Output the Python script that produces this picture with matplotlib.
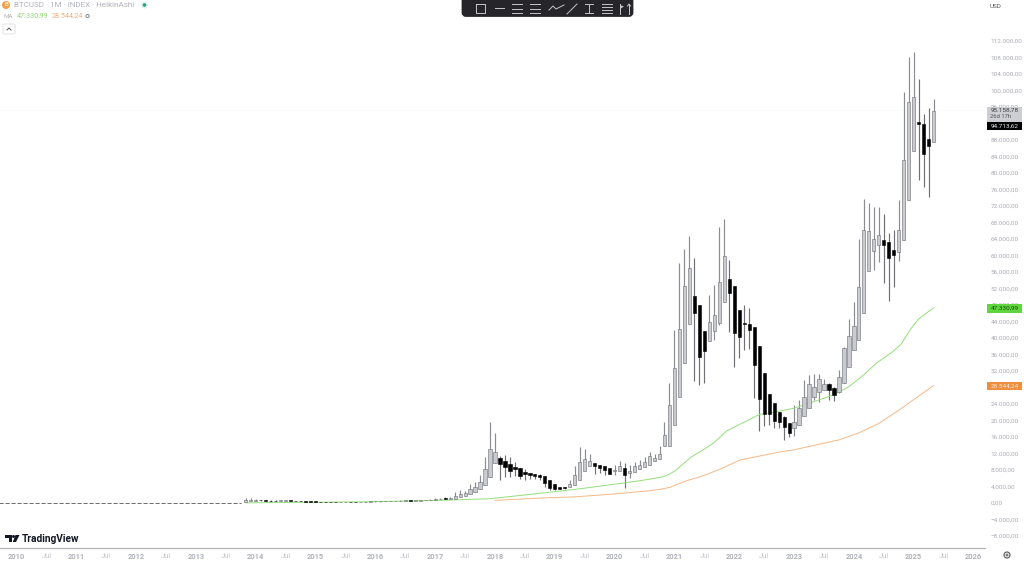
import matplotlib
matplotlib.use("Agg")
import matplotlib.pyplot as plt
from matplotlib.patches import Circle, FancyBboxPatch, Polygon, Rectangle

plt.rcParams['font.family'] = ['Roboto', 'DejaVu Sans']

# prices in thousands of USD, months counted from Jan 2010
flat_months = list(range(-4, 46))
flat_price = [0.01] * 50

first_month = 46
opens = [
    .2, .42, .6, .68, .65, .6, .55, .52, .53, .55, .54, .48, .42, .38,
    .36, .3, .27, .26, .25, .24, .25, .26, .25, .24, .25, .3, .38, .4,
    .41, .42, .43, .47, .55, .6, .58, .6, .65, .7, .8, .9, 1.05, .95,
    .9, 1.4, 1.7, 2.1, 2.7, 3.5, 4.3, 6.2,
    9.6, 11.0, 10.1, 9.4, 8.7, 8.4, 7.5, 7.3, 7.0, 6.8, 6.5, 5.6,
    4.5, 3.9, 3.8, 3.8, 4.3, 5.5, 7.7, 9.0, 9.6, 9.2, 9.0, 8.4,
    7.8, 7.8, 8.5, 7.3, 7.5, 8.2, 8.7, 9.3, 10.2, 10.6, 13.9, 13.9,
    18.8, 25.8, 34.0, 43.3, 50.1, 48.0, 41.8, 39.3, 41.6, 43.7, 48.7, 54.3,
    52.5, 46.9, 43.6, 43.4, 42.7, 38.1, 31.6, 26.4, 24.2, 22.1, 20.8, 19.5,
    18.3, 19.0, 21.1, 23.0, 25.8, 26.9, 27.5, 28.8, 28.0, 27.0, 29.0, 33.0,
    37.0, 39.5, 46.0, 56.2, 61.0, 62.6, 63.7, 63.2, 61.3, 60.8, 63.7, 73.4,
    85.3, 92.3, 91.9, 88.2, 87.4,
]
closes = [
    .65, .78, .75, .62, .55, .5, .5, .55, .55, .52, .45, .38, .35, .34,
    .28, .24, .25, .24, .24, .25, .27, .25, .24, .27, .36, .42, .41, .41,
    .42, .43, .47, .6, .62, .57, .6, .65, .72, .85, .92, 1.0, 1.0, 1.1,
    1.7, 2.3, 2.4, 3.5, 4.0, 5.1, 8.2, 13.0,
    12.4, 9.4, 8.7, 7.8, 8.3, 6.6, 7.0, 6.8, 6.5, 6.2, 4.9, 3.6,
    3.3, 3.4, 3.7, 4.5, 6.9, 9.9, 10.6, 10.2, 8.9, 8.5, 8.0, 7.0,
    8.1, 9.0, 6.7, 7.8, 9.0, 9.3, 10.0, 11.3, 10.8, 12.0, 16.4, 23.7,
    32.8, 42.1, 52.5, 56.9, 46.0, 35.5, 36.8, 44.0, 45.7, 53.7, 60.0, 50.8,
    41.3, 40.3, 43.4, 41.9, 33.5, 25.1, 21.6, 21.6, 20.0, 19.7, 18.5, 16.9,
    19.7, 23.0, 25.8, 28.8, 28.2, 30.0, 28.8, 27.4, 26.2, 30.6, 37.5, 40.5,
    42.9, 52.3, 66.2, 65.9, 63.9, 65.0, 62.6, 59.5, 60.2, 66.3, 83.2, 97.2,
    98.5, 92.0, 84.6, 86.6, 95.0,
]
highs = [
    1.1, 1.15, .95, .75, .7, .65, .62, .68, .66, .62, .55, .5, .42, .45,
    .38, .3, .3, .26, .25, .27, .32, .28, .25, .33, .5, .47, .46, .45,
    .44, .46, .55, .78, .7, .62, .62, .74, .76, .98, 1.15, 1.2, 1.35, 1.35,
    2.6, 3.1, 3.0, 4.6, 5.0, 6.8, 11.2, 19.6,
    17.0, 11.4, 11.6, 11.2, 9.9, 8.4, 8.2, 7.4, 7.1, 7.0, 6.6, 5.6,
    4.5, 3.9, 3.8, 5.6, 9.0, 13.6, 13.0, 12.0, 9.6, 9.2, 9.0, 8.4,
    9.2, 10.3, 9.8, 9.2, 10.0, 10.4, 11.1, 12.3, 12.0, 13.9, 19.6, 29.0,
    41.9, 58.1, 61.7, 64.7, 59.5, 48.0, 41.8, 50.4, 52.8, 66.8, 68.8, 58.9,
    52.5, 46.9, 48.0, 47.3, 42.7, 38.1, 31.6, 26.4, 24.2, 22.1, 21.0, 19.5,
    23.8, 25.0, 29.8, 31.0, 31.2, 31.4, 30.0, 29.0, 28.2, 32.2, 37.9, 44.5,
    48.8, 63.9, 73.6, 72.7, 71.7, 71.8, 70.0, 65.4, 66.3, 73.5, 99.6, 108.2,
    109.3, 102.7, 94.3, 95.7, 97.9,
]
lows = [
    .2, .42, .6, .45, .45, .36, .44, .5, .5, .48, .38, .28, .27, .3,
    .15, .17, .23, .21, .22, .22, .25, .2, .22, .24, .25, .3, .35, .37,
    .39, .4, .43, .47, .48, .5, .58, .6, .65, .7, .75, .9, .9, .9,
    .9, 1.4, 1.7, 2.1, 2.7, 3.5, 4.3, 6.2,
    9.6, 5.7, 6.4, 6.4, 6.6, 5.8, 5.7, 5.8, 5.9, 5.7, 3.8, 3.1,
    3.1, 3.3, 3.5, 3.8, 4.3, 5.5, 7.7, 9.0, 7.0, 7.2, 6.8, 7.0,
    6.8, 7.8, 3.7, 6.0, 7.5, 8.2, 8.7, 9.3, 10.2, 10.6, 13.9, 13.9,
    18.8, 25.8, 34.0, 43.3, 29.5, 28.6, 29.2, 39.3, 39.5, 43.2, 48.7, 41.5,
    32.9, 35.1, 37.1, 37.3, 25.4, 17.5, 18.7, 18.9, 18.1, 18.1, 15.3, 16.1,
    16.3, 19.0, 21.0, 23.0, 25.0, 24.6, 27.5, 25.0, 24.8, 26.6, 29.0, 33.0,
    37.0, 39.5, 46.0, 56.2, 56.5, 58.4, 53.4, 49.0, 52.4, 58.7, 63.7, 73.4,
    85.3, 78.3, 76.7, 74.3, 87.4,
]

green_months = [46, 70, 85, 95, 105, 112, 119, 125, 127.1, 129.8, 131, 132.1, 133.5, 135.4,
                137.1, 139.8, 142.5, 145.8, 149.1, 152, 156, 160, 163.2, 165.2, 167.2, 169.9,
                172.5, 175.9, 177.6, 179.2, 180.9, 182.6, 184]
green_ma = [.05, .3, .65, 1.05, 2.35, 3.3, 4.4, 5.4, 5.8, 6.4, 7.0, 7.8, 9.2, 11.2,
            12.4, 14.5, 17.5, 19.5, 21.5, 22.0, 23.0, 24.6, 25.9, 27.0, 28.4, 31.0,
            33.9, 36.8, 38.7, 41.9, 44.5, 46.1, 47.3]
orange_months = [96, 105, 112, 120, 127.1, 129, 131.1, 132.7, 134.4, 136.4, 138.4, 141.5,
                 145.1, 149.1, 153.2, 156, 165, 169, 173, 177, 184]
orange_ma = [.65, 1.2, 1.5, 2.2, 3.0, 3.3, 3.8, 4.6, 5.4, 6.1, 6.9, 8.4,
             10.4, 11.4, 12.4, 12.9, 15.3, 17.0, 19.3, 22.5, 28.5]

price_ticks = [112, 108, 104, 100, 96, 92, 88, 84, 80, 76, 72, 68, 64, 60, 56, 52, 48,
               44, 40, 36, 32, 28, 24, 20, 16, 12, 8, 4, 0, -4, -8]
year_labels = ['2010', '2011', '2012', '2013', '2014', '2015', '2016', '2017', '2018',
               '2019', '2020', '2021', '2022', '2023', '2024', '2025', '2026']

last_price = 95.15878
label_muted = '#b6b9c1'


def euro_price(value):
    text = f"{abs(value) * 1000:,.2f}".replace(',', ' ').replace('.', ',').replace(' ', '.')
    return ('\u2212' + text) if value < 0 else text


def draw_candles(ax):
    months = [first_month + i for i in range(len(opens))]
    ax.plot(flat_months, flat_price, color='#555555', lw=0.6, ls=(0, (5, 2.2)), zorder=2)
    wick_colors = ['#8a8c92' if c >= o else '#6f7076' for o, c in zip(opens, closes)]
    ax.vlines(months, lows, highs, colors=wick_colors, lw=0.85, zorder=2)
    up = [c >= o for o, c in zip(opens, closes)]
    bottoms = [min(o, c) for o, c in zip(opens, closes)]
    heights = [max(abs(c - o), 0.1) for o, c in zip(opens, closes)]
    face = ['#c9cbd1' if u else '#000000' for u in up]
    edge = ['#6a6c73' if u else '#000000' for u in up]
    ax.bar(months, heights, bottom=bottoms, width=0.64, color=face, edgecolor=edge, lw=0.4, zorder=3)


def draw_axes(ax):
    ax.set_xlim(-3.31, 194.3)
    ax.set_ylim(-10.9, 121.94)
    for side in ['top', 'left', 'right']:
        ax.spines[side].set_visible(False)
    ax.spines['bottom'].set_color('#b4b4b4')
    ax.spines['bottom'].set_linewidth(0.9)
    ax.yaxis.tick_right()
    ax.set_yticks(price_ticks)
    ax.set_yticklabels([euro_price(v) for v in price_ticks])
    ax.tick_params(axis='y', length=0, pad=4.2, labelsize=4.6, labelcolor='#a9acb5')

    ticks, labels = [], []
    for i, year in enumerate(year_labels):
        ticks.append(i * 12)
        labels.append(year)
        if year != '2026':
            ticks.append(i * 12 + 6)
            labels.append('Jul')
    ax.set_xticks(ticks)
    ax.set_xticklabels(labels)
    ax.tick_params(axis='x', length=0, pad=3.6, labelsize=5.4, labelcolor='#c4c6cc')
    for tick, label in zip(ax.get_xticklabels(), labels):
        if label != 'Jul':
            tick.set_color('#b0b2b9')
            tick.set_fontweight('bold')
    ax.axhline(last_price, color='#eeeef0', lw=0.5, ls=(0, (1, 2)), zorder=1)


def price_tag(over, top, bottom, color, text, text_color):
    over.add_patch(Rectangle((987, top), 35, bottom - top, color=color, lw=0, zorder=5))
    over.text(1004.5, (top + bottom) / 2, text, color=text_color, fontsize=4.6,
              ha='center', va='center', zorder=6)


def draw_toolbar(over):
    over.add_patch(FancyBboxPatch((463, -3), 169, 18.5, boxstyle='round,pad=0,rounding_size=3',
                                  fc='#26262a', ec='#26262a', lw=2))
    ink = dict(color='#c6c6c8', lw=0.7)
    over.plot([476, 485, 485, 476, 476], [4, 4, 13, 13, 4], **ink)
    over.plot([495, 504], [8, 8], **ink)
    for x in (512, 530):
        over.plot([x, x + 10], [4, 4], **ink)
        over.plot([x, x + 10], [8.5, 8.5], **ink)
        over.plot([x, x + 10], [13, 13], **ink)
    over.plot([549, 553, 556, 560, 564], [10, 6, 9, 7, 5], **ink)
    over.plot([567, 577], [14, 4], **ink)
    over.plot([585, 593], [4, 4], **ink)
    over.plot([589, 589], [4, 13], **ink)
    over.plot([585, 593], [13, 13], **ink)
    for y in (4, 7, 10, 13):
        over.plot([602, 612], [y, y], **ink)
    over.plot([620, 620], [4, 14], **ink)
    over.add_patch(Polygon([[620, 5], [624, 6.5], [620, 9]], fc='#c6c6c8', ec='none'))
    over.plot([629, 629], [4, 14], **ink)
    over.plot([627.5, 629, 630.5], [6, 4, 6], **ink)


def draw_header(over):
    over.add_patch(Circle((6, 5), 4, fc='#f0a14b', ec='none'))
    over.text(6, 5, 'B', color='white', fontsize=4.5, ha='center', va='center')
    over.text(14, 5, 'BTCUSD \u00b7 1M \u00b7 INDEX \u00b7 HeikinAshi', color='#b0b3bb',
              fontsize=5.8, ha='left', va='center')
    over.add_patch(Circle((144.5, 5), 3.5, fc='#e2f2ee', ec='none'))
    over.add_patch(Circle((144.5, 5), 1.8, fc='#2f9e83', ec='none'))
    over.text(4, 16, 'MA', color='#b0b3bb', fontsize=4.4, ha='left', va='center')
    over.text(17, 16, '47.330,99', color='#8fd873', fontsize=5.2, ha='left', va='center')
    over.text(52, 16, '28.544,24', color='#f2ad7a', fontsize=5.2, ha='left', va='center')
    over.add_patch(Circle((87.5, 16), 1.6, fc='none', ec='#888888', lw=0.7))
    over.add_patch(FancyBboxPatch((3, 24), 12, 10, boxstyle='round,pad=0,rounding_size=1.5',
                                  fc='white', ec='#e2e2e4', lw=0.7))
    over.plot([7, 9, 11], [30, 28, 30], color='#555555', lw=0.7)


def draw_logo(over):
    over.add_patch(Polygon([[5, 535], [12, 535], [12, 542], [9, 542], [9, 538], [5, 538]], fc='#131722', ec='none'))
    over.add_patch(Circle((13.5, 536.5), 1.5, fc='#131722', ec='none'))
    over.add_patch(Polygon([[15.5, 535], [19.5, 535], [16, 542], [12.8, 542]], fc='#131722', ec='none'))
    over.text(22, 538.5, 'TradingView', color='#131722', fontsize=7.3, fontweight='bold', ha='left', va='center')


def main():
    fig = plt.figure(figsize=(10.24, 5.62), dpi=100, facecolor='white')
    ax = fig.add_axes([0, 14 / 562, 985 / 1024, 548 / 562])
    draw_axes(ax)
    ax.plot(green_months, green_ma, color='#93e07a', lw=0.7, zorder=2.5)
    ax.plot(orange_months, orange_ma, color='#f5b887', lw=0.7, zorder=2.5)
    draw_candles(ax)

    over = fig.add_axes([0, 0, 1, 1], facecolor='none')
    over.set_xlim(0, 1024)
    over.set_ylim(562, 0)
    over.axis('off')
    draw_toolbar(over)
    draw_header(over)
    draw_logo(over)
    over.text(990, 6, 'USD', color='#555555', fontsize=4.6, ha='left', va='center')
    over.add_patch(Rectangle((987, 107), 35, 15, color='#cdced3', lw=0, zorder=5))
    over.text(1004.5, 110.5, '95.158,78', color='#3d3d40', fontsize=4.6, ha='center', va='center', zorder=6)
    over.text(990, 117, '26d 17h', color='#55565a', fontsize=4.2, ha='left', va='center', zorder=6)
    price_tag(over, 122, 129.5, '#000000', '94.713,62', '#e8e8e8')
    price_tag(over, 304, 312.5, '#5fd63d', '47.330,99', '#1c4a12')
    price_tag(over, 382, 390, '#ef8f3c', '28.544,24', '#fde9d8')
    over.add_patch(Circle((1007, 555), 3, fc='none', ec='#555555', lw=0.8))
    over.add_patch(Circle((1007, 555), 1, fc='none', ec='#555555', lw=0.6))
    fig.savefig('out.png', dpi=100)


if __name__ == "__main__":
    main()
